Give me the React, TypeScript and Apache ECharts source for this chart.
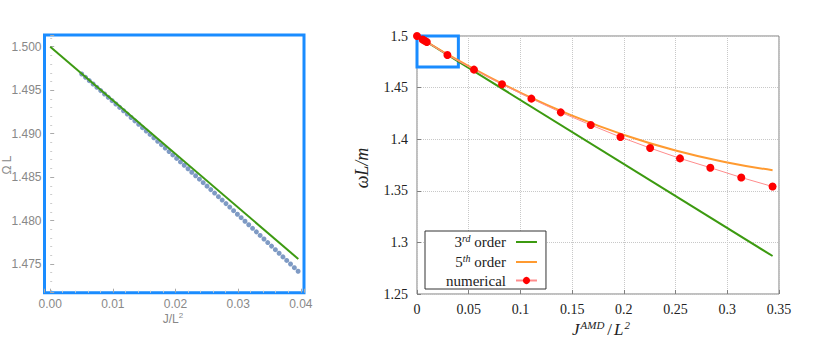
import React, { useEffect, useRef } from 'react';
import * as echarts from 'echarts';

// ---------- Inset (left panel) ----------
const insetJ = [0.00503, 0.00564, 0.00624, 0.00685, 0.00745, 0.00806, 0.00867, 0.00927, 0.00988, 0.01048,
  0.01109, 0.0117, 0.0123, 0.01291, 0.01351, 0.01412, 0.01473, 0.01533, 0.01594, 0.01654,
  0.01715, 0.01776, 0.01836, 0.01897, 0.01957, 0.02018, 0.02079, 0.02139, 0.022, 0.0226,
  0.02321, 0.02382, 0.02442, 0.02503, 0.02563, 0.02624, 0.02685, 0.02745, 0.02806, 0.02866,
  0.02927, 0.02988, 0.03048, 0.03109, 0.03169, 0.0323, 0.03291, 0.03351, 0.03412, 0.03472,
  0.03533, 0.03594, 0.03654, 0.03715, 0.03775, 0.03836, 0.03897, 0.03957];
const insetOmega = [1.49686, 1.49648, 1.4961, 1.49571, 1.49533, 1.49495, 1.49456, 1.49418, 1.49379, 1.49341,
  1.49302, 1.49263, 1.49225, 1.49186, 1.49147, 1.49108, 1.49069, 1.4903, 1.48991, 1.48952,
  1.48912, 1.48873, 1.48834, 1.48794, 1.48755, 1.48715, 1.48675, 1.48636, 1.48596, 1.48556,
  1.48516, 1.48476, 1.48436, 1.48396, 1.48356, 1.48316, 1.48275, 1.48236, 1.48195, 1.48155,
  1.48114, 1.48073, 1.48033, 1.47992, 1.47952, 1.47911, 1.4787, 1.47829, 1.47788, 1.47747,
  1.47706, 1.47665, 1.47624, 1.47582, 1.47541, 1.475, 1.47458, 1.47417];
const insetLineJ = [0, 0.0396];
const insetLineOmega = [1.5, 1.47558];

// ---------- Main (right panel) ----------
const legendNames = ['3rd order', '5th order', 'numerical'];
const thirdJ = [0, 0.3438];
const thirdW = [1.5, 1.2868];
const fifthJ = [0, 0.05, 0.1, 0.15, 0.2, 0.25, 0.3, 0.3438];
const fifthW = [1.5, 1.4707, 1.4451, 1.4229, 1.4042, 1.389, 1.3775, 1.370];
const numJ = [0, 0.0055, 0.0075, 0.0095, 0.0294, 0.0551, 0.0822, 0.1106, 0.139, 0.168, 0.1967, 0.2254, 0.2543, 0.2836, 0.3135, 0.3438];
const numW = [1.5, 1.4966, 1.4954, 1.4942, 1.4816, 1.4674, 1.4532, 1.4393, 1.426, 1.4138, 1.4021, 1.3914, 1.3814, 1.3724, 1.3629, 1.3541];
const zoomBoxJ = [0, 0.04];
const zoomBoxW = [1.47, 1.5];

const pairs = (xs: number[], ys: number[]) => xs.map((x, i) => [x, ys[i]]);

const serif = 'Liberation Serif';
const sans = 'Liberation Sans';
const blue = '#1a8cff';
const lineIcon = 'path://M0,0H21V2H0Z';

export default function App() {
  const ref = useRef<HTMLDivElement>(null);
  useEffect(() => {
    if (!ref.current) return;
    const chart = echarts.init(ref.current, null, { renderer: 'svg' });
    const option: any = {
      animation: false,
      backgroundColor: '#ffffff',
      grid: [
        { left: 44.5, top: 35, width: 259.5, height: 257.7, show: true, borderColor: blue, borderWidth: 3, backgroundColor: 'transparent' },
        { left: 417, top: 36, width: 362, height: 258, show: true, borderColor: '#808080', borderWidth: 1, backgroundColor: 'transparent' },
      ],
      xAxis: [
        {
          type: 'value', gridIndex: 0, min: -0.00091, max: 0.04051, splitNumber: 4,
          axisLine: { show: false },
          axisTick: { show: true, inside: true, length: 4, lineStyle: { color: '#aaa' } },
          minorTick: { show: true, splitNumber: 5, length: 2, lineStyle: { color: '#ccc' } },
          splitLine: { show: false },
          axisLabel: { showMinLabel: false, showMaxLabel: false, formatter: (v: number) => v.toFixed(2), color: '#888', fontFamily: sans, fontSize: 12, margin: 5 },
        },
        {
          type: 'value', gridIndex: 1, min: 0, max: 0.35, interval: 0.05,
          axisLine: { show: false },
          axisTick: { show: true, inside: true, length: 4, lineStyle: { color: '#808080' } },
          splitLine: { show: true, lineStyle: { color: '#c8c8c8', type: 'dotted', width: 1 } },
          axisLabel: { color: '#222', fontFamily: serif, fontSize: 14, margin: 8 },
        },
      ],
      yAxis: [
        {
          type: 'value', gridIndex: 0, min: 1.4717, max: 1.50135, splitNumber: 5,
          axisLine: { show: false },
          axisTick: { show: true, inside: true, length: 4, lineStyle: { color: '#aaa' } },
          minorTick: { show: true, splitNumber: 5, length: 2, lineStyle: { color: '#ccc' } },
          splitLine: { show: false },
          axisLabel: { showMinLabel: false, showMaxLabel: false, formatter: (v: number) => v.toFixed(3), color: '#888', fontFamily: sans, fontSize: 12, margin: 3 },
        },
        {
          type: 'value', gridIndex: 1, min: 1.25, max: 1.5, interval: 0.05,
          axisLine: { show: false },
          axisTick: { show: true, inside: true, length: 4, lineStyle: { color: '#808080' } },
          splitLine: { show: true, lineStyle: { color: '#c8c8c8', type: 'dotted', width: 1 } },
          axisLabel: { color: '#222', fontFamily: serif, fontSize: 14, margin: 9 },
        },
      ],
      legend: {
        orient: 'vertical', left: 425, top: 231, align: 'right',
        padding: [2, 8, 1, 21], itemWidth: 21, itemHeight: 9, itemGap: 3.5,
        borderColor: '#333', borderWidth: 1, backgroundColor: '#fff', borderRadius: 0,
        data: [
          { name: legendNames[0], icon: lineIcon },
          { name: legendNames[1], icon: lineIcon },
          { name: legendNames[2] },
        ],
        formatter: (name: string) => {
          if (name === legendNames[0]) return '3{sup|rd} order';
          if (name === legendNames[1]) return '5{sup|th} order';
          return name;
        },
        textStyle: {
          fontFamily: serif, fontSize: 15, color: '#222', padding: [0, 5, 0, 0],
          rich: { sup: { fontFamily: serif, fontSize: 10, fontStyle: 'italic', color: '#222', padding: [0, 0, 8, 0] } },
        },
      },
      series: [
        {
          name: 'inset numerical', type: 'scatter', xAxisIndex: 0, yAxisIndex: 0,
          data: pairs(insetJ, insetOmega), symbolSize: 5,
          itemStyle: { color: '#5e81b5' }, z: 2,
        },
        {
          name: 'inset 3rd order', type: 'line', xAxisIndex: 0, yAxisIndex: 0,
          data: pairs(insetLineJ, insetLineOmega), symbol: 'none',
          lineStyle: { color: '#3d9a12', width: 2 }, z: 3,
        },
        {
          name: legendNames[0], type: 'line', xAxisIndex: 1, yAxisIndex: 1,
          data: pairs(thirdJ, thirdW), symbol: 'none',
          lineStyle: { color: '#3c9a10', width: 2 }, itemStyle: { color: '#3c9a10' }, z: 3,
        },
        {
          name: legendNames[1], type: 'line', xAxisIndex: 1, yAxisIndex: 1,
          data: pairs(fifthJ, fifthW), symbol: 'none', smooth: true,
          lineStyle: { color: '#ff9a30', width: 2 }, itemStyle: { color: '#ff9a30' }, z: 3,
        },
        {
          name: legendNames[2], type: 'line', xAxisIndex: 1, yAxisIndex: 1,
          data: pairs(numJ, numW), symbol: 'circle', symbolSize: 8,
          itemStyle: { color: '#ff0000' },
          lineStyle: { color: '#ff8c8c', width: 1 }, z: 4,
          markArea: {
            silent: true,
            label: { show: false },
            itemStyle: { color: 'rgba(0,0,0,0)', borderColor: blue, borderWidth: 3 },
            data: [[{ coord: [zoomBoxJ[0], zoomBoxW[1]] }, { coord: [zoomBoxJ[1], zoomBoxW[0]] }]],
          },
        },
      ],
      graphic: [
        {
          type: 'text', x: 362, y: 168, rotation: Math.PI / 2,
          style: { text: 'ωL/m', font: 'italic 18px "Liberation Serif"', fill: '#222', align: 'center', verticalAlign: 'middle' },
        },
        {
          type: 'text', x: 601, y: 329,
          style: {
            text: '{i|J}{s|AMD}{n|/}{i|L}{s|2}', align: 'center', verticalAlign: 'middle',
            rich: {
              i: { fontFamily: serif, fontStyle: 'italic', fontSize: 17, fill: '#222' },
              n: { fontFamily: serif, fontSize: 17, fill: '#222', padding: [0, 2, 0, 3] },
              s: { fontFamily: serif, fontStyle: 'italic', fontSize: 11, fill: '#222', padding: [0, 0, 9, 1] },
            },
          },
        },
        {
          type: 'text', x: 7, y: 165, rotation: Math.PI / 2,
          style: { text: 'Ω L', font: '12px "Liberation Sans"', fill: '#888', align: 'center', verticalAlign: 'middle' },
        },
        {
          type: 'text', x: 173, y: 319,
          style: {
            text: '{n|J/L}{s|2}', align: 'center', verticalAlign: 'middle',
            rich: {
              n: { fontFamily: sans, fontSize: 12, fill: '#888' },
              s: { fontFamily: sans, fontSize: 8, fill: '#888', padding: [0, 0, 7, 0] },
            },
          },
        },
      ],
    };
    chart.setOption(option);
    return () => chart.dispose();
  }, []);
  return <div ref={ref} style={{ position: 'fixed', left: 0, top: 0, width: 814, height: 338 }} />;
}
